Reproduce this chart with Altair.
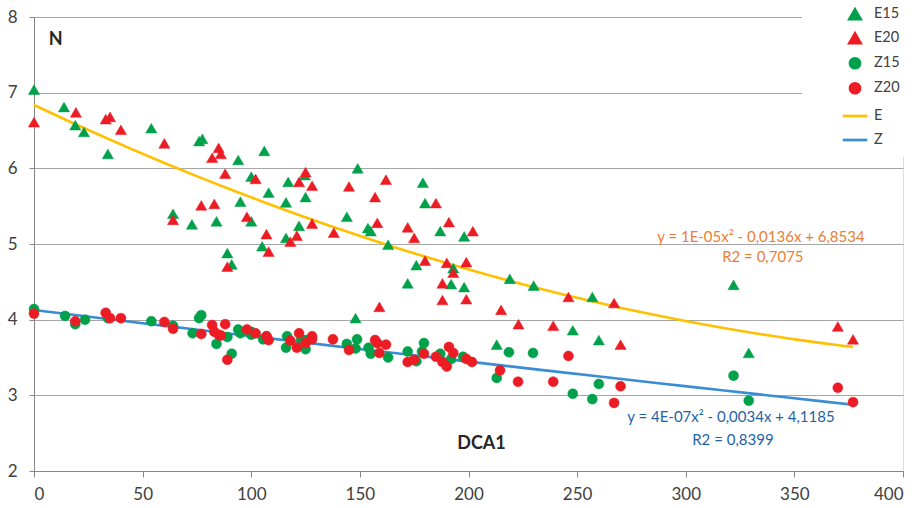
import altair as alt
import pandas as pd

# ---- data ----
e15_x = [0, 13.8, 19, 23, 34, 54, 76, 77.5, 64, 72.7, 84, 94, 100, 95, 100, 106, 108, 105, 89, 91,
         117, 116, 116, 122, 124.7, 125, 149, 144, 153.7, 155, 163, 179, 180, 187, 198, 176, 193,
         172, 192, 198, 148, 213, 219, 230, 257, 248, 260, 322, 329]
e15_y = [7.04, 6.81, 6.57, 6.48, 6.19, 6.53, 6.36, 6.39, 5.40, 5.26, 5.30, 6.11, 5.89, 5.56, 5.30,
         6.23, 5.68, 4.97, 4.88, 4.73, 5.82, 5.55, 5.08, 5.24, 5.91, 5.62, 6.00, 5.36, 5.21, 5.17,
         4.99, 5.81, 5.54, 5.17, 5.10, 4.72, 4.68, 4.48, 4.47, 4.43, 4.02, 3.67, 4.54, 4.45, 4.30,
         3.86, 3.73, 4.46, 3.56]

e20_x = [0, 19.3, 33, 35, 40, 60, 64, 77, 83, 82, 85, 86, 88, 98, 102, 107, 108, 89, 118, 121,
         122, 125, 128, 128, 145, 162, 157, 138, 158, 172, 175, 185, 191, 202, 180, 190, 193,
         199, 188, 188, 199, 159, 246, 267, 215, 223, 239, 270, 370, 377]
e20_y = [6.61, 6.74, 6.65, 6.68, 6.51, 6.33, 5.32, 5.51, 5.53, 6.14, 6.27, 6.19, 5.93, 5.36, 5.86,
         5.13, 4.90, 4.70, 5.03, 5.11, 5.82, 5.95, 5.77, 5.27, 5.76, 5.85, 5.62, 5.15, 5.28, 5.22,
         5.08, 5.54, 5.29, 5.17, 4.78, 4.75, 4.62, 4.76, 4.48, 4.26, 4.27, 4.17, 4.30, 4.22, 4.13,
         3.94, 3.92, 3.67, 3.91, 3.74]

z15_x = [0, 14.3, 19, 23.5, 34, 54, 64, 73, 76, 77, 84, 89, 91, 94, 95, 100, 100, 105.5, 107,
         116.5, 116, 125, 125, 123, 144, 148.7, 148, 154, 155, 163, 172, 176, 179.5, 178.6, 187,
         192, 197.5, 213, 218.6, 229.7, 248, 257, 260, 322, 329]
z15_y = [4.14, 4.05, 3.94, 4.00, 4.02, 3.98, 3.92, 3.82, 4.02, 4.06, 3.68, 3.77, 3.55, 3.87, 3.82,
         3.80, 3.84, 3.74, 3.78, 3.78, 3.63, 3.61, 3.73, 3.74, 3.68, 3.74, 3.62, 3.63, 3.55, 3.50,
         3.58, 3.45, 3.69, 3.58, 3.55, 3.48, 3.51, 3.23, 3.57, 3.56, 3.02, 2.95, 3.15, 3.26, 2.93]

z20_x = [0, 19, 33, 35, 40, 60, 64, 77, 82, 83, 85, 86, 88, 89, 98, 102, 107, 108, 118, 121, 122,
         125, 128, 128, 137.6, 145, 157, 158, 162, 159, 172, 175, 179.5, 185, 188, 191, 193, 190,
         199, 201.6, 214.5, 222.8, 239, 246, 267, 270, 370, 377]
z20_y = [4.08, 3.98, 4.09, 4.02, 4.02, 3.97, 3.88, 3.81, 3.93, 3.84, 3.80, 3.79, 3.94, 3.47, 3.87,
         3.82, 3.78, 3.73, 3.72, 3.63, 3.82, 3.69, 3.78, 3.74, 3.74, 3.60, 3.73, 3.69, 3.67, 3.56,
         3.44, 3.47, 3.55, 3.51, 3.44, 3.64, 3.56, 3.38, 3.48, 3.44, 3.33, 3.18, 3.18, 3.52, 2.90,
         3.12, 3.10, 2.91]

series_names = ["E15", "E20", "Z15", "Z20", "E", "Z"]
x_ticks = [0, 50, 100, 150, 200, 250, 300, 350, 400]
y_ticks = [2, 3, 4, 5, 6, 7, 8]

eq_texts = ["y = 1E-05x\u00b2 - 0,0136x + 6,8534", "R2 = 0,7075",
            "y = 4E-07x\u00b2 - 0,0034x + 4,1185", "R2 = 0,8399"]
eq_x = [334.6, 335.5, 320.8, 321.7]
eq_y = [5.09, 4.83, 2.71, 2.41]
eq_col = ["#ED7D31", "#ED7D31", "#1F63A6", "#1F63A6"]

lab_texts = ["N", "DCA1"]
lab_x = [10, 206]
lab_y = [7.70, 2.36]

# ---- build tables ----
rows = []
for name, xs, ys in [("E15", e15_x, e15_y), ("E20", e20_x, e20_y),
                     ("Z15", z15_x, z15_y), ("Z20", z20_x, z20_y)]:
    for a, b in zip(xs, ys):
        rows.append({"x": a, "y": b, "series": name})
pts = pd.DataFrame(rows)

fit_rows = []
for grp, col, pairs in [("E", "#FFC000", [(e15_x, e15_y), (e20_x, e20_y)]),
                        ("Z", "#3A8DD4", [(z15_x, z15_y), (z20_x, z20_y)])]:
    for xs, ys in pairs:
        for a, b in zip(xs, ys):
            fit_rows.append({"x": a, "y": b, "lc": col})
fit = pd.DataFrame(fit_rows)

eqs = pd.DataFrame({"t": eq_texts, "x": eq_x, "y": eq_y, "c": eq_col})
labs = pd.DataFrame({"t": lab_texts, "x": lab_x, "y": lab_y})

FONT = "Lato"
colors = ["#00A14B", "#EC1C24", "#00A14B", "#EC1C24", "#FFC000", "#3A8DD4"]
shapes = ["triangle-up", "triangle-up", "circle", "circle", "stroke", "stroke"]
sizes = [125, 125, 100, 100, 600, 600]

xscale = alt.Scale(domain=[0, 400], nice=False, zero=False)
yscale = alt.Scale(domain=[2, 8], nice=False, zero=False)

xenc = alt.X("x:Q", scale=xscale,
             axis=alt.Axis(values=x_ticks, title=None, grid=False, domainColor="#868686",
                           tickColor="#868686", tickSize=6, labelFontSize=17, labelFont=FONT,
                           labelColor="#404040", labelPadding=9, format="d"))
yenc = alt.Y("y:Q", scale=yscale,
             axis=alt.Axis(values=y_ticks, title=None, grid=True, gridColor="#A6A6A6",
                           domainColor="#868686", tickColor="#868686", tickSize=5,
                           labelFontSize=17, labelFont=FONT, labelColor="#404040",
                           labelPadding=12, format="d"))

legend = alt.Legend(title=None, orient="none", legendX=768, legendY=-20, fillColor="white",
                    padding=10, symbolOffset=29, labelOffset=5, labelFontSize=14.5,
                    labelFont=FONT, labelColor="#404040", rowPadding=3,
                    symbolStrokeWidth=2.7)

points = alt.Chart(pts).mark_point(filled=True, opacity=1, strokeWidth=0.5).encode(
    x=xenc, y=yenc,
    fill=alt.Fill("series:N", scale=alt.Scale(domain=series_names, range=colors), legend=legend),
    stroke=alt.Stroke("series:N", scale=alt.Scale(domain=series_names, range=colors), legend=legend),
    shape=alt.Shape("series:N", scale=alt.Scale(domain=series_names, range=shapes), legend=legend),
    size=alt.Size("series:N", scale=alt.Scale(type="ordinal", domain=series_names, range=sizes),
                  legend=legend),
)

lines = alt.Chart(fit).transform_regression(
    "x", "y", method="poly", order=2, groupby=["lc"]
).mark_line(strokeWidth=2.6).encode(
    x=xenc, y=yenc, color=alt.Color("lc:N", scale=None)
)

eq_layer = alt.Chart(eqs).mark_text(font=FONT, fontSize=15, align="center", baseline="middle").encode(
    x=xenc, y=yenc, text="t:N", color=alt.Color("c:N", scale=None)
)

lab_layer = alt.Chart(labs).mark_text(font=FONT, fontSize=18, fontWeight="bold", align="center",
                                      baseline="middle", color="#262626").encode(
    x=xenc, y=yenc, text="t:N"
)

chart = alt.layer(lines, points, eq_layer, lab_layer).properties(
    width=869, height=454,
    padding={"left": 34, "top": 17, "right": 18, "bottom": 37},
    autosize=alt.AutoSizeParams(type="none"),
).configure_view(stroke=None).configure(background="white")

chart.save("out.html", embed_options={"renderer": "svg", "actions": False})
